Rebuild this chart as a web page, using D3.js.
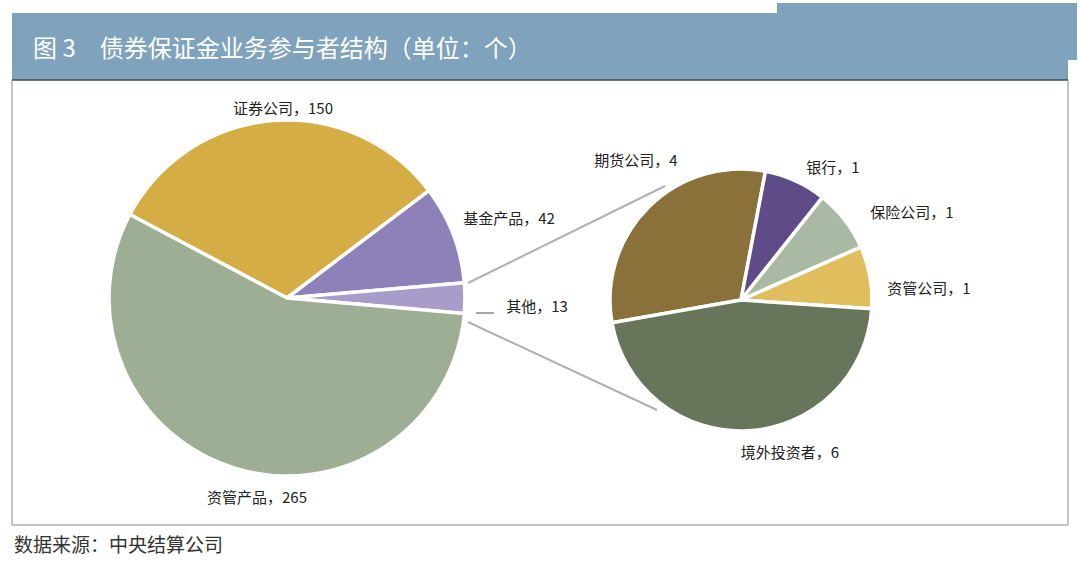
<!DOCTYPE html>
<html><head><meta charset="utf-8">
<script src="https://cdn.jsdelivr.net/npm/d3@7"></script>
<style>body{margin:0;background:#fff;}svg{display:block;font-family:"Noto Sans CJK SC","Noto Sans",sans-serif;}</style>
</head><body><svg id="c" width="1080" height="564"></svg>
<script>
const mainCats = ["证券公司","基金产品","其他","资管产品"];
const mainVals = [150,42,13,265];
const mainColors = ["#d4ad45","#8e80b9","#a99bca","#9dae95"];
const subCats = ["期货公司","银行","保险公司","资管公司","境外投资者"];
const subVals = [4,1,1,1,6];
const subColors = ["#8a7139","#5f4b87","#a9b9a4","#e0bd5d","#67765a"];

const svg = d3.select("#c");
const deg = Math.PI/180;
// header
svg.append("rect").attr("x",777).attr("y",3).attr("width",300).attr("height",57).attr("fill","#7fa3bd");
svg.append("rect").attr("x",12).attr("y",13).attr("width",1056).attr("height",67).attr("fill","#7fa3bd");
svg.append("line").attr("x1",12).attr("x2",1068).attr("y1",80).attr("y2",80).attr("stroke","#3d4a52").attr("stroke-width",1.5);
svg.append("text").attr("x",33).attr("y",57).attr("fill","#fff").attr("font-size",24).text("图 3　债券保证金业务参与者结构（单位：个）");
// box
svg.append("path").attr("d","M12,80V525H1068V80").attr("fill","none").attr("stroke","#8a8a8a").attr("stroke-width",1);
svg.append("text").attr("x",14).attr("y",552).attr("fill","#333").attr("font-size",19).text("数据来源：中央结算公司");

function drawPie(vals, colors, cx, cy, r, start){
  const pie = d3.pie().sort(null).startAngle(start*deg).endAngle(start*deg+2*Math.PI);
  const arc = d3.arc().innerRadius(0).outerRadius(r);
  const g = svg.append("g").attr("transform",`translate(${cx},${cy})`);
  g.selectAll("path").data(pie(vals)).join("path").attr("d",arc)
    .attr("fill",(d,i)=>colors[i]).attr("stroke","#fff").attr("stroke-width",3.5).attr("stroke-linejoin","round");
}
drawPie(mainVals, mainColors, 287, 298, 178, -62);
drawPie(subVals, subColors, 741, 300, 131, -100);

// connectors
const lc = "#b0b0b0";
svg.append("line").attr("x1",468).attr("y1",283).attr("x2",665).attr("y2",186).attr("stroke",lc).attr("stroke-width",2);
svg.append("line").attr("x1",468).attr("y1",322).attr("x2",657).attr("y2",410).attr("stroke",lc).attr("stroke-width",2);
svg.append("line").attr("x1",476).attr("y1",313).attr("x2",494).attr("y2",313).attr("stroke","#888").attr("stroke-width",1.5);

const labels = [
  [mainCats[0]+"，"+mainVals[0],283,114],
  [mainCats[1]+"，"+mainVals[1],509,224],
  [mainCats[2]+"，"+mainVals[2],537,312],
  [mainCats[3]+"，"+mainVals[3],257,503],
  [subCats[0]+"，"+subVals[0],636,166],
  [subCats[1]+"，"+subVals[1],833,173],
  [subCats[2]+"，"+subVals[2],912,218],
  [subCats[3]+"，"+subVals[3],929,294],
  [subCats[4]+"，"+subVals[4],790,458]
];
svg.selectAll("text.l").data(labels).join("text").attr("class","l")
  .attr("x",d=>d[1]).attr("y",d=>d[2]).attr("text-anchor","middle")
  .attr("font-size",15).attr("fill","#222").text(d=>d[0]);
</script></body></html>
